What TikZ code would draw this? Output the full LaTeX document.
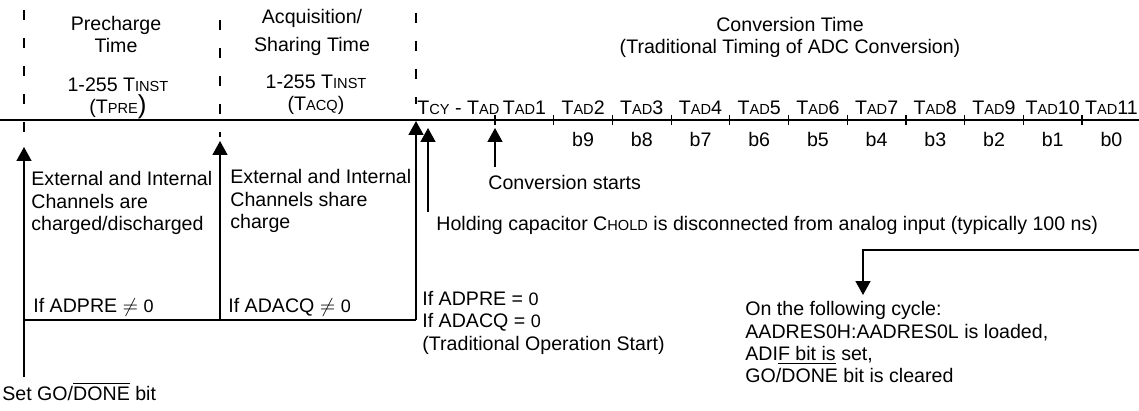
\documentclass[tikz,border=0pt]{standalone}
\usepackage{fontspec}
\setmainfont{Liberation Sans}
\usetikzlibrary{arrows.meta}

\newcommand{\lowcap}[2]{#1{\fontsize{7.3}{8}\selectfont #2}}

\tikzset{
  txt/.style={inner sep=0pt, font=\fontsize{9.8}{11.2}\selectfont},
  note/.style={txt, anchor=base west},
  block/.style={txt, anchor=north west, align=left},
  heading/.style={txt, anchor=north, align=center},
  timeline/.style={line width=0.7pt},
  tickmark/.style={line width=0.6pt},
  guide/.style={line width=1pt, dash pattern=on 5pt off 9pt},
  event/.style={line width=0.8pt, -{Triangle[length=7pt,width=7.5pt]}},
  wire/.style={line width=0.8pt},
}

\begin{document}
\begin{tikzpicture}[x=0.5pt, y=-0.5pt]
\useasboundingbox (0,0) rectangle (1139,411);

% time axis
\coordinate (t0) at (0,120);
\coordinate (t1) at (1139,120);
\draw[timeline] (t0) -- (t1);
\foreach \i in {0,...,10}
  \draw[tickmark] ({495+58.7*\i},115) -- ({495+58.7*\i},125);

% phase boundaries
\draw[guide] (24,10) -- (24,140);
\draw[guide] (220,20) -- (220,137);
\draw[guide] (416,13) -- (416,104);

% headings
\node[heading] (pre) at (116,16) {Precharge\\Time};
\node[heading] (preT) at (118,77) {1-255 \lowcap{T}{INST}\\(\lowcap{T}{PRE}{\fontsize{13}{11}\selectfont)}};
\node[heading] (acq) at (312,9) {Acquisition/\\[3pt]Sharing Time};
\node[heading] (acqT) at (316,74) {1-255 \lowcap{T}{INST}\\(\lowcap{T}{ACQ})};
\node[heading] (conv) at (790,17) {Conversion Time\\(Traditional Timing of ADC Conversion)};

% cycle labels
\node[note] (tcy) at (417,115) {\lowcap{T}{CY} - \lowcap{T}{AD}};
\foreach \i in {1,...,11}
  \node[note, anchor=base] (tad\i) at ({524.4+58.7*(\i-1)},115) {\lowcap{T}{AD}\i};
\foreach \b [count=\k] in {9,8,...,0}
  \node[note, anchor=base] (bit\b) at ({524.4+58.7*\k},147) {b\b};

% events
\coordinate (go) at (24,377);      \coordinate (goTip) at (24,147);
\coordinate (preEnd) at (220,320); \coordinate (preTip) at (220,141);
\coordinate (acqEnd) at (416,320); \coordinate (acqTip) at (416,121);
\coordinate (hold) at (428,212);   \coordinate (holdTip) at (428,128);
\coordinate (start) at (495,167);  \coordinate (startTip) at (495,128);
\coordinate (done) at (1139,250);  \coordinate (doneTip) at (863,295);

\draw[wire] (go |- preEnd) -- (acqEnd);
\draw[event] (go) -- (goTip);
\draw[event] (preEnd) -- (preTip);
\draw[event] (acqEnd) -- (acqTip);
\draw[event] (hold) -- (holdTip);
\draw[event] (start) -- (startTip);
\draw[event] (done) -| (doneTip);

\node[block] (ext1) at (31,171) {External and Internal\\Channels are\\charged/discharged};
\node[block] (ext2) at (230,169) {External and Internal\\Channels share\\charge};
\node[note] (cstart) at (488,190) {Conversion starts};
\node[note] (holdtxt) at (436,230) {Holding capacitor \lowcap{C}{HOLD} is disconnected from analog input (typically 100 ns)};
\node[note] (ifpre) at (33,312) {If ADPRE $\neq$ {\small 0}};
\node[note] (ifacq) at (228,312) {If ADACQ $\neq$ {\small 0}};
\node[block] (trad) at (422,291) {If ADPRE = {\small 0}\\If ADACQ = {\small 0}\\(Traditional Operation Start)};
\node[block] (next) at (745,301) {On the following cycle:\\AADRES0H:AADRES0L is loaded,\\ADI\underline{F bit is} set,\\GO/DONE bit is cleared};
\node[note] (setgo) at (2,400) {Set GO/$\overline{\mbox{DONE}}$ bit};
\end{tikzpicture}
\end{document}
